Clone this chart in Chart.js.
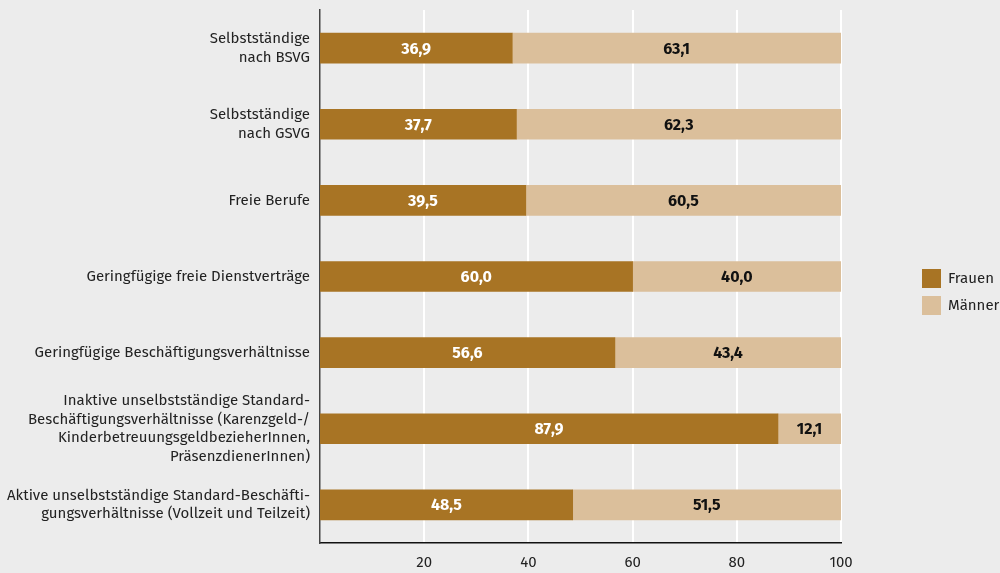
<!DOCTYPE html>
<html>
<head>
<meta charset="utf-8">
<script src="https://cdn.jsdelivr.net/npm/chart.js@4"></script>
<style>
html,body{margin:0;padding:0;background:#ececec;}
#wrap{width:1000px;height:573px;position:relative;}
</style>
</head>
<body>
<div id="wrap"><canvas id="c" width="1000" height="573"></canvas></div>
<script>
const categories = [
  ["Selbstständige", "nach BSVG"],
  ["Selbstständige", "nach GSVG"],
  "Freie Berufe",
  "Geringfügige freie Dienstverträge",
  "Geringfügige Beschäftigungsverhältnisse",
  ["Inaktive unselbstständige Standard-", "Beschäftigungsverhältnisse (Karenzgeld-/", "KinderbetreuungsgeldbezieherInnen,", "PräsenzdienerInnen)"],
  ["Aktive unselbstständige Standard-Beschäfti-", "gungsverhältnisse (Vollzeit und Teilzeit)"]
];
const frauen = [36.9, 37.7, 39.5, 60.0, 56.6, 87.9, 48.5];
const maenner = [63.1, 62.3, 60.5, 40.0, 43.4, 12.1, 51.5];
const tickValues = [20, 40, 60, 80, 100];

const FONT = "'Fira Sans','Noto Sans','Open Sans',sans-serif";

const valueLabels = {
  id: 'valueLabels',
  afterDatasetsDraw(chart) {
    const ctx = chart.ctx;
    ctx.save();
    ctx.font = "bold 16px " + FONT;
    ctx.textAlign = 'center';
    ctx.textBaseline = 'middle';
    chart.data.datasets.forEach((ds, di) => {
      const meta = chart.getDatasetMeta(di);
      meta.data.forEach((el, i) => {
        const p = el.getProps(['x', 'y', 'base'], true);
        ctx.fillStyle = di === 0 ? '#ffffff' : '#111111';
        ctx.fillText(ds.data[i].toFixed(1).replace('.', ','), (p.x + p.base) / 2, p.y + 1);
      });
    });
    ctx.restore();
  }
};

const customLegend = {
  id: 'customLegend',
  afterDraw(chart) {
    const ctx = chart.ctx;
    ctx.save();
    ctx.font = "15px " + FONT;
    ctx.textBaseline = 'middle';
    ctx.textAlign = 'left';
    chart.data.datasets.forEach((ds, i) => {
      const y = 269 + i * 27;
      ctx.fillStyle = ds.backgroundColor;
      ctx.fillRect(922, y, 19, 19);
      ctx.fillStyle = '#222222';
      ctx.fillText(ds.label, 948, y + 10);
    });
    ctx.restore();
  }
};

new Chart(document.getElementById('c'), {
  type: 'bar',
  data: {
    labels: categories,
    datasets: [
      { label: 'Frauen', data: frauen, backgroundColor: '#a87424', barThickness: 30 },
      { label: 'Männer', data: maenner, backgroundColor: '#dbbf9b', barThickness: 30 }
    ]
  },
  options: {
    indexAxis: 'y',
    responsive: false,
    animation: false,
    devicePixelRatio: 1,
    layout: { padding: { top: 10, right: 159, left: 0, bottom: 0 } },
    plugins: { legend: { display: false }, tooltip: { enabled: false } },
    scales: {
      x: {
        stacked: true,
        min: 0, max: 100,
        afterBuildTicks(scale) { scale.ticks = tickValues.map(v => ({ value: v })); },
        afterFit(scale) { scale.height = 30; scale.paddingLeft = 0; },
        grid: { color: '#ffffff', lineWidth: 2, drawTicks: false },
        border: { display: true, color: '#111111', width: 1.5 },
        ticks: { color: '#222222', font: { family: FONT, size: 15 }, padding: 11 }
      },
      y: {
        stacked: true,
        afterFit(scale) { scale.width = 320; scale.paddingTop = 0; scale.paddingBottom = 0; },
        grid: { display: false, drawTicks: false },
        border: { display: true, color: '#444444', width: 1.5 },
        ticks: { color: '#222222', autoSkip: false, font: { family: FONT, size: 15, lineHeight: 1.25 }, padding: 10 }
      }
    }
  },
  plugins: [valueLabels, customLegend]
});
</script>
</body>
</html>
